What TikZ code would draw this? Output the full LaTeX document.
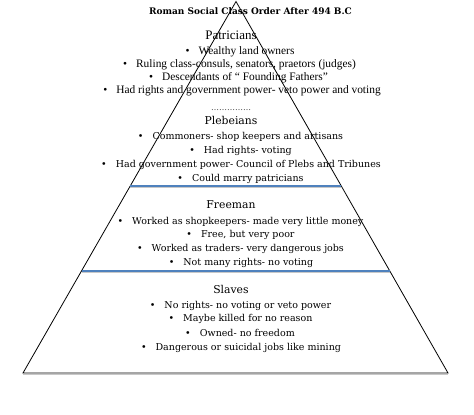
\documentclass[tikz,border=0pt]{standalone}
\usepackage{fontspec}
\setmainfont{Liberation Serif}
\newfontfamily\camb{DejaVu Serif}
\usetikzlibrary{calc}
\definecolor{sepblue}{RGB}{79,129,189}
\definecolor{shade}{RGB}{200,200,200}
\tikzset{
  x=1pt, y=-1pt,
  tri/.style={draw=black, line width=0.8pt, line join=miter},
  sepline/.style={draw=sepblue, line width=1.8pt},
  shadowline/.style={draw=shade, line width=1.2pt},
  ttl/.style={font=\camb\bfseries\fontsize{9}{10}\selectfont, inner sep=0pt, anchor=base},
  thead/.style={font=\fontsize{13}{15}\selectfont, inner sep=0pt, anchor=base},
  tbul/.style={font=\fontsize{11.4}{13}\selectfont, inner sep=0pt, anchor=base},
  chead/.style={font=\camb\fontsize{10.8}{13}\selectfont, inner sep=0pt, anchor=base},
  cbul/.style={font=\camb\fontsize{9.5}{11}\selectfont, inner sep=0pt, anchor=base},
}
\newcommand{\bul}{\textbullet\hspace{9pt}}
\begin{document}
\begin{tikzpicture}
\useasboundingbox (0,0) rectangle (474,415);
\fill[white] (0,0) rectangle (474,415);
% pyramid
\coordinate (A) at (236,1.5);
\coordinate (B) at (23,373);
\coordinate (C) at (448,373);
\coordinate (L1) at ($(A)!0.496!(B)$);
\coordinate (R1) at ($(A)!0.496!(C)$);
\coordinate (L2) at ($(A)!0.725!(B)$);
\coordinate (R2) at ($(A)!0.725!(C)$);
\draw[shadowline] ([yshift=-1.5pt]B) -- ([yshift=-1.5pt]C);
\draw[shadowline] ([yshift=-1.5pt]L1) -- ([yshift=-1.5pt]R1);
\draw[shadowline] ([yshift=-1.5pt]L2) -- ([yshift=-1.5pt]R2);
\draw[tri] (A) -- (B) -- (C) -- cycle;
\draw[sepline] (L1) -- (R1);
\draw[sepline] (L2) -- (R2);
% title
\node[ttl] (title) at (250.5,14) {Roman Social Class Order After 494 B.C};
% Patricians
\node[thead] (pat) at (231,39.5) {Patricians};
\node[tbul] (p1) at (240,54) {\bul Wealthy land owners};
\node[tbul] (p2) at (239.5,67.5) {\bul Ruling class-consuls, senators, praetors (judges)};
\node[tbul] (p3) at (238.5,80.5) {\bul Descendants of `` Founding Fathers''};
\node[tbul] (p4) at (242,93.5) {\bul Had rights and government power- veto power and voting};
\node[tbul, font=\fontsize{8}{9}\selectfont] (dots) at (231,110) {……………};
% Plebeians
\node[chead] (ple) at (231,124.5) {Plebeians};
\node[cbul] (l1) at (240.5,139.5) {\bul Commoners- shop keepers and artisans};
\node[cbul] (l2) at (240.5,153) {\bul Had rights- voting};
\node[cbul] (l3) at (241,167.5) {\bul Had government power- Council of Plebs and Tribunes};
\node[cbul] (l4) at (240.5,181.5) {\bul Could marry patricians};
% Freeman
\node[chead] (fre) at (231,208.5) {Freeman};
\node[cbul] (f1) at (240.5,224.5) {\bul Worked as shopkeepers- made very little money};
\node[cbul] (f2) at (240.5,237.5) {\bul Free, but very poor};
\node[cbul] (f3) at (240.5,251.5) {\bul Worked as traders- very dangerous jobs};
\node[cbul] (f4) at (241,265.5) {\bul Not many rights- no voting};
% Slaves
\node[chead] (sla) at (231,293.5) {Slaves};
\node[cbul] (s1) at (240.5,308.5) {\bul No rights- no voting or veto power};
\node[cbul] (s2) at (240.5,321.5) {\bul Maybe killed for no reason};
\node[cbul] (s3) at (240,336.5) {\bul Owned- no freedom};
\node[cbul] (s4) at (241,350.5) {\bul Dangerous or suicidal jobs like mining};
\end{tikzpicture}
\end{document}
